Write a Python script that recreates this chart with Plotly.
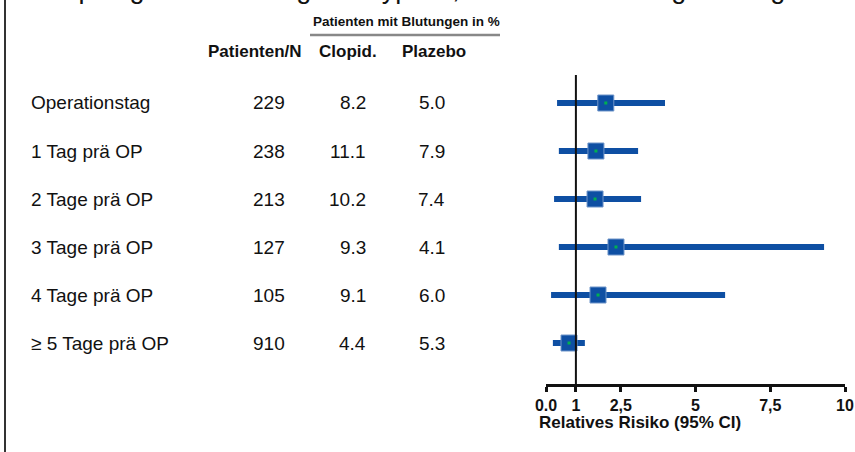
import plotly.graph_objects as go

# ---- data ----
groups = ["Operationstag", "1 Tag prä OP", "2 Tage prä OP", "3 Tage prä OP",
          "4 Tage prä OP", "\u2265 5 Tage prä OP"]
patients_n = ["229", "238", "213", "127", "105", "910"]
clopid_pct = ["8.2", "11.1", "10.2", "9.3", "9.1", "4.4"]
plazebo_pct = ["5.0", "7.9", "7.4", "4.1", "6.0", "5.3"]
rr_point = [2.0, 1.67, 1.64, 2.34, 1.74, 0.77]
rr_lower = [0.37, 0.43, 0.27, 0.43, 0.17, 0.23]
rr_upper = [3.98, 3.08, 3.18, 9.30, 5.99, 1.30]
tick_vals = [0, 1, 2.5, 5, 7.5, 10]
tick_text = ["0.0", "1", "2,5", "5", "7,5", "10"]
title_text = "Clopidogrel-Absetzung vor Bypass, Risiko der Blutung im Vergleich"

W, H = 855, 452
BLUE = "#0e4fa3"
FONT = "Arial, Liberation Sans, sans-serif"

rows = list(range(len(groups)))
err_plus = [u - p for u, p in zip(rr_upper, rr_point)]
err_minus = [p - l for p, l in zip(rr_point, rr_lower)]

def px(x):
    return x / W

def py(y):
    return 1 - y / H

fig = go.Figure()
fig.add_trace(go.Scatter(
    x=rr_point, y=rows, mode="markers",
    marker=dict(symbol="square", size=16, color=BLUE,
                line=dict(color="#6f95c9", width=1)),
    error_x=dict(type="data", symmetric=False, array=err_plus,
                 arrayminus=err_minus, thickness=6, width=0, color=BLUE),
    showlegend=False, hoverinfo="skip"))
fig.add_trace(go.Scatter(
    x=rr_point, y=rows, mode="markers",
    marker=dict(symbol="square", size=3, color="#00b050", line=dict(width=0)),
    showlegend=False, hoverinfo="skip"))

ann = []
cell_font = dict(family=FONT, size=19, color="#111")
for i in rows:
    ann.append(dict(x=px(29), y=i, xref="paper", yref="y", text=groups[i],
                    xanchor="left", yanchor="middle", showarrow=False,
                    font=cell_font))
    ann.append(dict(x=px(287), y=i, xref="paper", yref="y", text=patients_n[i],
                    xanchor="right", yanchor="middle", showarrow=False,
                    font=cell_font))
    ann.append(dict(x=px(368), y=i, xref="paper", yref="y", text=clopid_pct[i],
                    xanchor="right", yanchor="middle", showarrow=False,
                    font=cell_font))
    ann.append(dict(x=px(447), y=i, xref="paper", yref="y", text=plazebo_pct[i],
                    xanchor="right", yanchor="middle", showarrow=False,
                    font=cell_font))

hdr_font = dict(family=FONT, size=17, color="#111", weight="bold")
ann += [
    dict(x=px(255), y=py(52), xref="paper", yref="paper", text="Patienten/N",
         xanchor="center", yanchor="middle", showarrow=False, font=hdr_font),
    dict(x=px(348), y=py(52), xref="paper", yref="paper", text="Clopid.",
         xanchor="center", yanchor="middle", showarrow=False, font=hdr_font),
    dict(x=px(434), y=py(52), xref="paper", yref="paper", text="Plazebo",
         xanchor="center", yanchor="middle", showarrow=False, font=hdr_font),
    dict(x=px(406), y=py(22), xref="paper", yref="paper",
         text="Patienten mit Blutungen in %",
         xanchor="center", yanchor="middle", showarrow=False,
         font=dict(family=FONT, size=13.5, color="#111", weight="bold")),
    dict(x=px(537), y=py(422), xref="paper", yref="paper",
         text="Relatives Risiko (95% CI)",
         xanchor="left", yanchor="middle", showarrow=False,
         font=dict(family=FONT, size=17, color="#111", weight="bold")),
    dict(x=px(36), y=py(6), xref="paper", yref="paper", text=title_text,
         xanchor="left", yanchor="bottom", showarrow=False,
         font=dict(family=FONT, size=27, color="#111")),
]

shapes = [
    # reference line at RR = 1
    dict(type="line", xref="x", yref="paper", x0=1, x1=1,
         y0=py(384), y1=py(75), line=dict(color="#111", width=2)),
    # underline of group header
    dict(type="line", xref="paper", yref="paper", x0=px(310), x1=px(500),
         y0=py(35), y1=py(35), line=dict(color="#888", width=2.5)),
    # left frame line
    dict(type="line", xref="paper", yref="paper", x0=px(5), x1=px(5),
         y0=0, y1=1, line=dict(color="#333", width=2)),
]

top_px, bot_px = 75, 384
spacing = 48.0
row0 = 103
y_top = (top_px - row0) / spacing
y_bot = (bot_px - row0) / spacing

fig.update_layout(
    width=W, height=H,
    margin=dict(l=0, r=0, t=0, b=0, pad=0, autoexpand=False),
    paper_bgcolor="white", plot_bgcolor="white",
    annotations=ann, shapes=shapes,
    xaxis=dict(domain=[px(546), px(845)], range=[0, 10],
               tickvals=tick_vals, ticktext=tick_text, automargin=False,
               showline=True, linecolor="#111", linewidth=3,
               ticks="outside", ticklen=5, tickwidth=3, tickcolor="#111",
               showgrid=False, zeroline=False,
               tickfont=dict(family=FONT, size=16, color="#111", weight="bold")),
    yaxis=dict(domain=[py(bot_px), py(top_px)], range=[y_bot, y_top],
               visible=False, showgrid=False, zeroline=False, automargin=False),
)

fig.write_html(
    "out.html",
    config={"displayModeBar": False, "staticPlot": True},
    post_script="document.body.style.margin='0';document.body.style.overflow='hidden';",
)
